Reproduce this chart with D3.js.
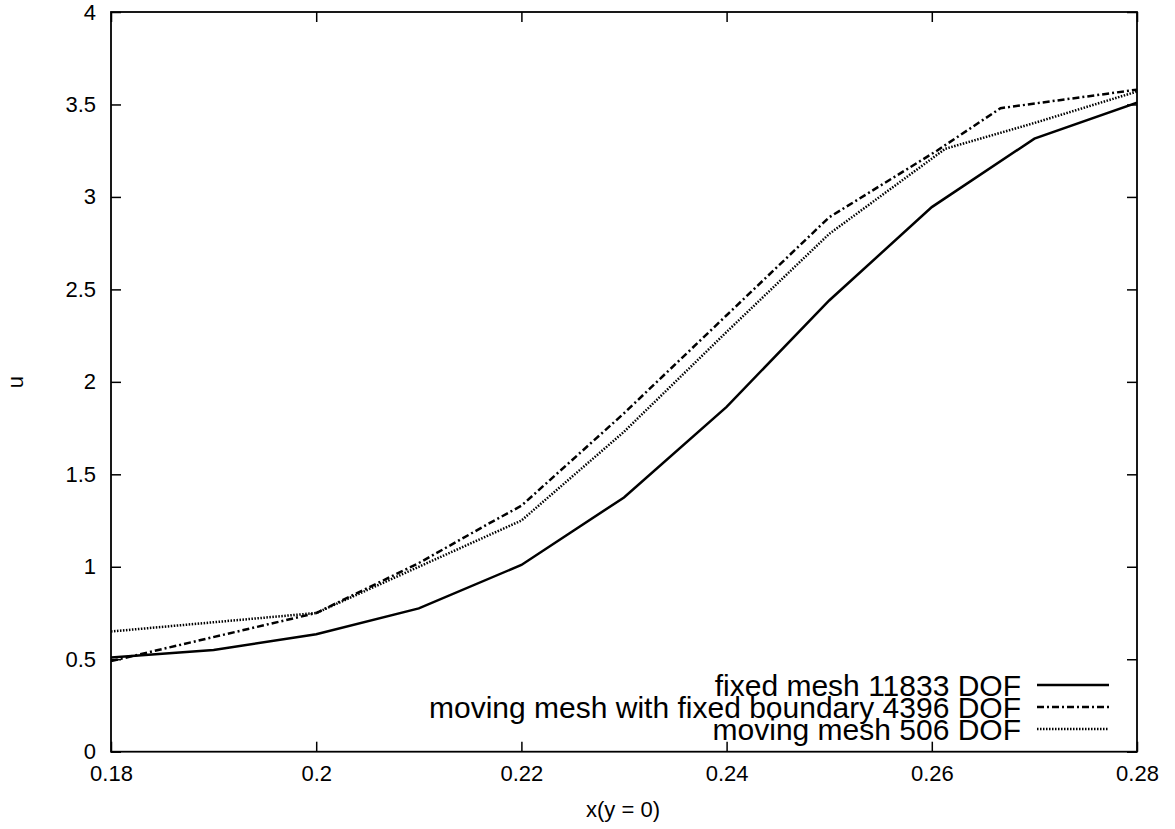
<!DOCTYPE html>
<html><head><meta charset="utf-8">
<script src="https://cdn.jsdelivr.net/npm/d3@7"></script>
<style>body{margin:0;background:#fff;} text{font-family:"Liberation Sans",Arial,sans-serif;fill:#000;}</style>
</head><body>
<svg id="c" width="1175" height="829"></svg>
<script>
// Data
const xTicks = [0.18, 0.2, 0.22, 0.24, 0.26, 0.28];
const xTickLabels = ["0.18", "0.2", "0.22", "0.24", "0.26", "0.28"];
const yTicks = [0, 0.5, 1, 1.5, 2, 2.5, 3, 3.5, 4];
const yTickLabels = ["0", "0.5", "1", "1.5", "2", "2.5", "3", "3.5", "4"];

const fixedX = [0.18, 0.19, 0.20, 0.21, 0.22, 0.23, 0.24, 0.25, 0.26, 0.27, 0.28];
const fixedY = [0.51, 0.55, 0.635, 0.775, 1.01, 1.375, 1.865, 2.44, 2.945, 3.315, 3.51];

const movFbX = [0.18, 0.20, 0.21, 0.2167, 0.22, 0.23, 0.24, 0.25, 0.2605, 0.2667, 0.28];
const movFbY = [0.49, 0.75, 1.02, 1.23, 1.33, 1.83, 2.36, 2.89, 3.25, 3.48, 3.58];

const movX = [0.18, 0.19, 0.20, 0.21, 0.22, 0.23, 0.24, 0.25, 0.2613, 0.27, 0.28];
const movY = [0.65, 0.70, 0.75, 1.00, 1.25, 1.73, 2.27, 2.80, 3.26, 3.40, 3.57];

const seriesNames = ["fixed mesh 11833 DOF", "moving mesh with fixed boundary 4396 DOF", "moving mesh 506 DOF"];
const xTitle = "x(y = 0)";
const yTitle = "u";

const svg = d3.select("#c");
const L = 111, R = 1137, T = 12, B = 751.7;
const x = d3.scaleLinear().domain([0.18, 0.28]).range([L, R]);
const y = d3.scaleLinear().domain([0, 4]).range([B, T]);

// ticks (inward, mirrored)
const tl = 10;
const axB = d3.axisBottom(x).tickValues(xTicks).tickSize(-tl).tickFormat((d,i)=>xTickLabels[i]).tickPadding(14);
const axT = d3.axisTop(x).tickValues(xTicks).tickSize(-tl).tickFormat("");
const axL = d3.axisLeft(y).tickValues(yTicks).tickSize(-tl).tickFormat((d,i)=>yTickLabels[i]).tickPadding(15);
const axR = d3.axisRight(y).tickValues(yTicks).tickSize(-tl).tickFormat("");

function style(g){ g.select(".domain").remove(); g.selectAll("line").attr("stroke","#000").attr("stroke-width",1.5);
  g.selectAll("text").attr("font-size",22).attr("fill","#000").style("font-family","'Liberation Sans',Arial,sans-serif"); }
svg.append("g").attr("transform",`translate(0,${B})`).call(axB).call(style);
svg.append("g").attr("transform",`translate(0,${T})`).call(axT).call(style);
svg.append("g").attr("transform",`translate(${L},0)`).call(axL).call(style);
svg.append("g").attr("transform",`translate(${R},0)`).call(axR).call(style);

svg.append("clipPath").attr("id","clip").append("rect").attr("x",L).attr("y",T).attr("width",R-L).attr("height",B-T);

const line = d3.line().x(d=>x(d[0])).y(d=>y(d[1]));
const series = [
  {xs: fixedX, ys: fixedY, dash: null},
  {xs: movFbX, ys: movFbY, dash: "7,3,2,3"},
  {xs: movX, ys: movY, dash: "1.5,1.5"}
];
const gl = svg.append("g").attr("clip-path","url(#clip)");
series.forEach(s=>{
  gl.append("path").datum(s.xs.map((v,i)=>[v,s.ys[i]]))
    .attr("d",line).attr("fill","none").attr("stroke","#000").attr("stroke-width",2.5)
    .attr("stroke-dasharray",s.dash).attr("stroke-linejoin","miter");
});

// frame
svg.append("rect").attr("x",L).attr("y",T).attr("width",R-L).attr("height",B-T)
  .attr("fill","none").attr("stroke","#000").attr("stroke-width",1.8);

// legend
const legY = [685, 707, 729];
series.forEach((s,i)=>{
  svg.append("text").attr("x",1021).attr("y",legY[i]).attr("dy","0.35em").attr("text-anchor","end")
    .attr("font-size",30).text(seriesNames[i]);
  svg.append("line").attr("x1",1037).attr("x2",1109).attr("y1",legY[i]).attr("y2",legY[i])
    .attr("stroke","#000").attr("stroke-width",2.5).attr("stroke-dasharray",s.dash);
});

// axis titles
svg.append("text").attr("x",623).attr("y",809).attr("dy","0.35em").attr("text-anchor","middle").attr("font-size",22).text(xTitle);
svg.append("text").attr("transform","translate(15,382) rotate(-90)").attr("dy","0.35em").attr("text-anchor","middle").attr("font-size",22).text(yTitle);
</script>
</body></html>
